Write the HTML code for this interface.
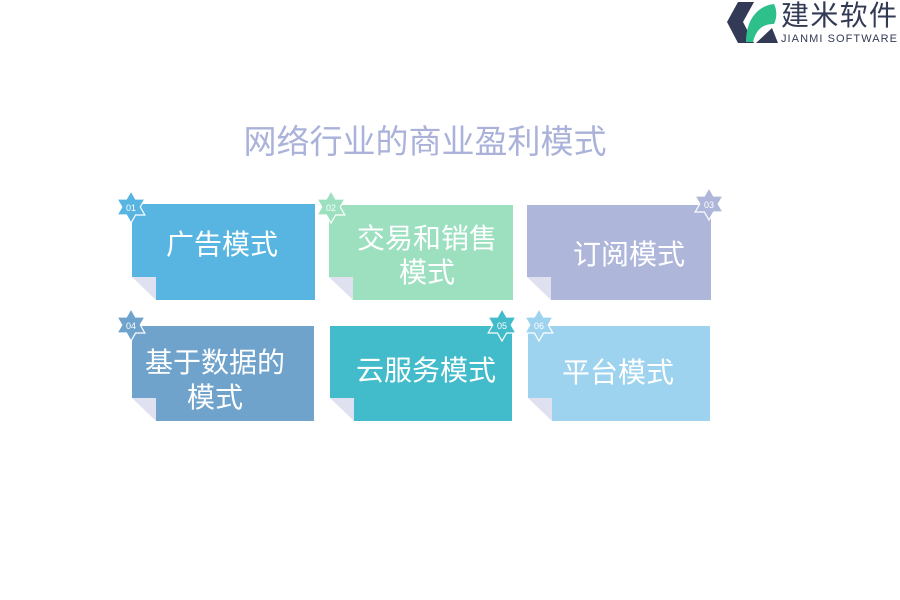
<!DOCTYPE html>
<html><head><meta charset="utf-8"><style>
html,body{margin:0;padding:0;background:#fff;}
svg{display:block;}
text{font-family:"Liberation Sans","Noto Sans CJK SC",sans-serif;}
</style></head><body>
<svg width="900" height="600" viewBox="0 0 900 600" xmlns="http://www.w3.org/2000/svg">
<!-- logo -->
<path d="M738 2 L754 2 L743 22 L754 43 L738 43 L727 22 Z" fill="#333a55"/>
<path d="M746 42 C746 22 756 6 774 4 C778 12 776 20 774 24 C762 24 756 30 753 42 Z" fill="#2ec08a"/>
<path d="M756 43 L772 28 L778 43 Z" fill="#333a55"/>
<text x="781" y="25" font-size="28" fill="#333a55" textLength="116">建米软件</text>
<text x="781" y="42" font-size="11" fill="#333a55" textLength="116">JIANMI SOFTWARE</text>
<!-- title -->
<text x="425" y="153" font-size="33" fill="#aab2da" text-anchor="middle">网络行业的商业盈利模式</text>
<defs>
<path id="st" d="M0,-16 L4.62,-8 L13.86,-8 L9.24,0 L13.86,8 L4.62,8 L0,16 L-4.62,8 L-13.86,8 L-9.24,0 L-13.86,-8 L-4.62,-8Z"/>
</defs>
<rect x="132" y="204" width="183" height="96" fill="#58b5e2"/>
<rect x="329" y="205" width="184" height="95" fill="#9ce0c0"/>
<rect x="527" y="205" width="184" height="95" fill="#aeb6da"/>
<rect x="132" y="326" width="182" height="95" fill="#6fa3cc"/>
<rect x="330" y="326" width="182" height="95" fill="#42bbcb"/>
<rect x="528" y="326" width="182" height="95" fill="#9dd3ee"/>
<g>
<polygon points="132,277 156,277 156,300 132,300" fill="#fff"/><polygon points="132,277 156,277 156,300" fill="#dfe1f0"/>
<polygon points="329,277 353,277 353,300 329,300" fill="#fff"/><polygon points="329,277 353,277 353,300" fill="#dfe1f0"/>
<polygon points="527,277 551,277 551,300 527,300" fill="#fff"/><polygon points="527,277 551,277 551,300" fill="#dfe1f0"/>
<polygon points="132,398 156,398 156,421 132,421" fill="#fff"/><polygon points="132,398 156,398 156,421" fill="#dfe1f0"/>
<polygon points="330,398 354,398 354,421 330,421" fill="#fff"/><polygon points="330,398 354,398 354,421" fill="#dfe1f0"/>
<polygon points="528,398 552,398 552,421 528,421" fill="#fff"/><polygon points="528,398 552,398 552,421" fill="#dfe1f0"/>
</g>
<g font-size="28" fill="#fff" text-anchor="middle">
<text x="222" y="254">广告模式</text>
<text x="427" y="248">交易和销售</text>
<text x="427" y="282">模式</text>
<text x="629" y="264">订阅模式</text>
<text x="215" y="372">基于数据的</text>
<text x="215" y="407">模式</text>
<text x="426" y="380">云服务模式</text>
<text x="618" y="382">平台模式</text>
</g>
<g stroke="#fff" stroke-width="1.2">
<use href="#st" transform="translate(131,207)" fill="#58b5e2"/>
<use href="#st" transform="translate(331,207)" fill="#9ce0c0"/>
<use href="#st" transform="translate(709,204)" fill="#aeb6da"/>
<use href="#st" transform="translate(131,325)" fill="#6fa3cc"/>
<use href="#st" transform="translate(502,325)" fill="#42bbcb"/>
<use href="#st" transform="translate(539,325)" fill="#9dd3ee"/>
</g>
<g font-size="9" fill="#fff" text-anchor="middle">
<text x="131" y="211">01</text>
<text x="331" y="211">02</text>
<text x="709" y="208">03</text>
<text x="131" y="329">04</text>
<text x="502" y="329">05</text>
<text x="539" y="329">06</text>
</g>
</svg>
</body></html>
